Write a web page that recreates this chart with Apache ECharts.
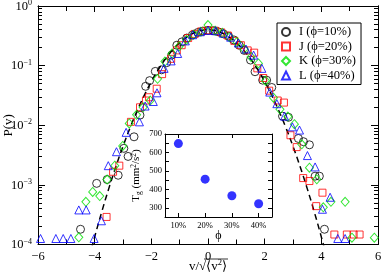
<!DOCTYPE html>
<html><head><meta charset="utf-8">
<script src="https://cdn.jsdelivr.net/npm/echarts@6/dist/echarts.min.js"></script>
<style>html,body{margin:0;padding:0;background:#fff}#c{width:382px;height:277px}</style>
</head><body><div id="c"></div>
<script>
// ---------- data ----------
const seriesNames = ['I (ϕ=10%)', 'J (ϕ=20%)', 'K (ϕ=30%)', 'L (ϕ=40%)'];
const dataI = [[-4.50,1.8e-4],[-3.93,1.06e-3],[-3.56,1.23e-3],[-3.17,1.45e-3],[-2.97,4.1e-3],[-2.82,3.0e-3],[-2.61,6.4e-3],[-2.40,0.0148],[-2.20,0.045],[-2.06,0.056],[-1.86,0.080],[-1.64,0.085],[-1.46,0.112],[-1.28,0.15],[-1.10,0.22],[-0.92,0.25],[-0.75,0.29],[-0.55,0.326],[-0.36,0.36],[-0.18,0.38],[0.0,0.39],[0.18,0.385],[0.36,0.37],[0.55,0.34],[0.73,0.31],[0.91,0.27],[1.10,0.22],[1.28,0.18],[1.50,0.124],[1.66,0.079],[1.93,0.057],[2.07,0.057],[2.25,0.043],[2.63,0.0142],[2.84,0.0136],[3.19,6.0e-3],[3.37,5.3e-3],[3.58,4.7e-3],[3.78,1.4e-3],[3.93,1.4e-3],[4.11,1.8e-4]];
const dataJ = [[-3.58,2.9e-4],[-3.35,1.66e-3],[-3.13,2.1e-3],[-2.72,0.0114],[-2.40,0.020],[-2.19,0.026],[-2.08,0.0295],[-1.81,0.041],[-1.62,0.072],[-1.30,0.13],[-1.10,0.18],[-0.93,0.22],[-0.70,0.29],[-0.47,0.34],[-0.24,0.375],[0.0,0.39],[0.24,0.385],[0.47,0.36],[0.70,0.32],[0.93,0.26],[1.16,0.22],[1.40,0.18],[1.63,0.165],[1.74,0.090],[1.95,0.062],[2.16,0.038],[2.46,0.026],[2.68,0.024],[2.91,6.8e-3],[3.13,4.3e-3],[3.36,1.3e-3],[3.58,1.16e-3],[3.82,4.4e-4],[4.04,7.4e-4],[4.46,1.47e-4],[4.90,1.47e-4],[5.14,1.47e-4],[5.35,1.47e-4]];
const dataK = [[-4.56,1.32e-4],[-4.31,5.2e-4],[-4.07,7.6e-4],[-3.82,6.5e-4],[-3.56,1.23e-3],[-3.29,2.1e-3],[-3.01,4.5e-3],[-2.78,0.0107],[-2.52,0.0150],[-2.29,0.020],[-2.04,0.026],[-1.78,0.060],[-1.52,0.117],[-1.27,0.16],[-1.02,0.21],[-0.76,0.27],[-0.51,0.33],[-0.25,0.37],[0.0,0.48],[0.25,0.385],[0.51,0.355],[0.76,0.30],[1.02,0.25],[1.27,0.19],[1.52,0.14],[1.78,0.109],[2.03,0.056],[2.31,0.029],[2.54,0.0185],[2.82,0.0140],[3.05,0.0104],[3.31,4.8e-3],[3.58,1.94e-3],[3.84,1.24e-3],[4.07,4.2e-4],[4.34,5.2e-4],[4.84,5.2e-4],[5.08,1.3e-4],[5.87,1.3e-4]];
const dataL = [[-5.91,1.26e-4],[-5.37,1.26e-4],[-5.11,1.26e-4],[-4.84,1.26e-4],[-4.56,3.8e-4],[-4.30,3.8e-4],[-4.02,1.26e-4],[-3.76,2.5e-4],[-3.52,2.1e-3],[-3.23,3.6e-3],[-2.89,7.6e-3],[-2.42,0.0114],[-2.22,0.021],[-1.93,0.025],[-1.80,0.035],[-1.55,0.09],[-1.30,0.12],[-1.07,0.16],[-0.80,0.26],[-0.54,0.33],[-0.27,0.37],[0.0,0.39],[0.27,0.385],[0.54,0.35],[0.80,0.30],[1.07,0.24],[1.34,0.19],[1.61,0.15],[1.90,0.090],[2.18,0.036],[2.43,0.023],[2.70,0.0142],[2.98,9.4e-3],[3.23,8.3e-3],[3.51,3.1e-3],[3.78,2.0e-3],[4.04,3.9e-4],[4.31,6.2e-4],[4.58,1.26e-4],[4.84,1.26e-4]];
// dashed reference curve
const curveV = [-4.2,-4.0,-3.75,-3.5,-3.25,-3.0,-2.75,-2.5,-2.25,-2.0,-1.75,-1.5,-1.25,-1.0,-0.75,-0.5,-0.25,0,0.25,0.5,0.75,1.0,1.25,1.5,1.75,2.0,2.25,2.5,2.75,3.0,3.25,3.5,3.75,4.0,4.2];
const curveP = [5.9e-5,1.34e-4,3.53e-4,8.73e-4,2.03e-3,4.43e-3,9.09e-3,0.0175,0.0317,0.054,0.0863,0.1295,0.1826,0.242,0.3011,0.3521,0.3867,0.3989,0.3867,0.3521,0.3011,0.242,0.1826,0.1295,0.0863,0.054,0.0317,0.0175,9.09e-3,4.43e-3,2.03e-3,8.73e-4,3.53e-4,1.34e-4,5.9e-5];
// inset
const insetCats = ['10%','20%','30%','40%'];
const insetVals = [648, 455, 365, 322];
const insetLabelTicks = [300,400,500,600,700];
const insetAllTicks = [250,300,350,400,450,500,550,600,650,700];
const xTickLabels = {'-6':'−6','-4':'−4','-2':'−2','0':'0','2':'2','4':'4','6':'6'};

// ---------- build ----------
const FONT = '"Liberation Serif", "Times New Roman", serif';
const minorLog = [];
[-4,-3,-2,-1].forEach(e => { for (let k = 2; k <= 9; k++) minorLog.push(+(k * Math.pow(10, e)).toPrecision(3)); });
const majorLog = [1e-4,1e-3,1e-2,1e-1,1];

const supRich = {
  b: {fontFamily: FONT, fontSize: 12.5, color: '#000', lineHeight: 14, verticalAlign: 'bottom'},
  s: {fontFamily: FONT, fontSize: 8, color: '#000', lineHeight: 9, verticalAlign: 'top'}
};

function logAxis(pos, withLabels, ticks, len) {
  return {
    type: 'log', logBase: 10, min: 1e-4, max: 1, gridIndex: 0, position: pos,
    axisLine: {show: true, onZero: false, lineStyle: {color: '#000', width: 1}},
    axisTick: {show: true, inside: true, length: len, customValues: ticks, lineStyle: {color: '#000'}},
    axisLabel: withLabels ? {
      show: true, margin: 6, customValues: majorLog,
      formatter: v => { const e = Math.round(Math.log10(v)); return '{b|10}{s|' + (e < 0 ? '−' + (-e) : e) + '}'; },
      rich: supRich
    } : {show: false},
    splitLine: {show: false}, minorTick: {show: false}
  };
}

const mainX = (pos, labels) => ({
  type: 'value', gridIndex: 0, min: -6, max: 6, interval: 2, position: pos,
  axisLine: {show: true, onZero: false, lineStyle: {color: '#000', width: 1}},
  axisTick: {show: true, inside: true, length: 6, lineStyle: {color: '#000'}},
  minorTick: {show: true, splitNumber: 2, length: 5, lineStyle: {color: '#000'}},
  axisLabel: labels ? {show: true, margin: 6, fontFamily: FONT, fontSize: 12.5, color: '#000', formatter: v => xTickLabels[String(v)]} : {show: false},
  splitLine: {show: false},
  name: labels ? '{n|v/√⟨v}{s|2}{n|⟩}' : '', nameLocation: 'middle', nameGap: 14, nameMoveOverlap: false,
  nameTextStyle: {rich: {n: {fontFamily: FONT, fontSize: 13, color: '#000', lineHeight: 15, verticalAlign: 'bottom'}, s: {fontFamily: FONT, fontSize: 8.5, color: '#000', lineHeight: 9, verticalAlign: 'top'}}}
});

const insetX = (pos, labels) => ({
  type: 'category', gridIndex: 1, data: insetCats, position: pos, boundaryGap: true,
  axisLine: {show: true, onZero: false, lineStyle: {color: '#000', width: 1}},
  axisTick: {show: true, inside: true, alignWithLabel: true, length: 4, lineStyle: {color: '#000'}},
  axisLabel: labels ? {show: true, margin: 4, fontFamily: FONT, fontSize: 8.5, color: '#000'} : {show: false},
  splitLine: {show: false},
  name: labels ? 'ϕ' : '', nameLocation: 'middle', nameGap: 13, nameMoveOverlap: false,
  nameTextStyle: {fontFamily: FONT, fontSize: 12, color: '#000'}
});

const insetY = (pos, labels) => ({
  type: 'value', gridIndex: 1, min: 250, max: 700, position: pos,
  axisLine: {show: true, onZero: false, lineStyle: {color: '#000', width: 1}},
  axisTick: {show: true, inside: true, length: 4, customValues: insetAllTicks, lineStyle: {color: '#000'}},
  axisLabel: labels ? {show: true, margin: 3, fontFamily: FONT, fontSize: 8.5, color: '#000', customValues: insetLabelTicks} : {show: false},
  splitLine: {show: false},
  name: labels ? '{t|T}{sub|g}{t| (mm}{sup|2}{t|/s}{sup|2}{t|)}' : '', nameLocation: 'middle', nameGap: 22, nameMoveOverlap: false,
  nameTextStyle: {rich: {
    t: {fontFamily: FONT, fontSize: 11, color: '#000', lineHeight: 13, verticalAlign: 'middle'},
    sub: {fontFamily: FONT, fontSize: 7.5, color: '#000', lineHeight: 8, verticalAlign: 'bottom'},
    sup: {fontFamily: FONT, fontSize: 7.5, color: '#000', lineHeight: 8, verticalAlign: 'top'}
  }}
});

const mainYLeft = logAxis('left', true, majorLog, 7);
mainYLeft.name = 'P(v)'; mainYLeft.nameLocation = 'middle'; mainYLeft.nameGap = 23; mainYLeft.nameMoveOverlap = false;
mainYLeft.nameTextStyle = {fontFamily: FONT, fontSize: 13, color: '#000'};

const symStyle = (c) => ({color: 'rgba(0,0,0,0)', borderColor: c, borderWidth: 1});

const option = {
  animation: false,
  backgroundColor: '#fff',
  grid: [
    {left: 38, top: 6, width: 340, height: 238.5, show: false, containLabel: false, outerBoundsMode: 'none'},
    {left: 165, top: 134, width: 107, height: 83, show: true, backgroundColor: '#fff', borderWidth: 0, containLabel: false, outerBoundsMode: 'none'}
  ],
  xAxis: [mainX('bottom', true), mainX('top', false), insetX('bottom', true), insetX('top', false)],
  yAxis: [mainYLeft, logAxis('left', false, minorLog, 4), logAxis('right', false, majorLog, 7), logAxis('right', false, minorLog, 4), insetY('left', true), insetY('right', false)],
  legend: {
    data: seriesNames, orient: 'vertical', left: 277, top: 23,
    backgroundColor: '#fff', borderColor: '#000', borderWidth: 1, borderRadius: 0,
    padding: [2, 5, 2, 4], itemGap: 0.5, itemWidth: 8, itemHeight: 8,
    textStyle: {fontFamily: FONT, fontSize: 12.5, color: '#000', lineHeight: 14, padding: [0, 0, 0, 4]}
  },
  series: [
    {type: 'line', data: curveV.map((v, i) => [v, curveP[i]]), xAxisIndex: 0, yAxisIndex: 0, symbol: 'none', smooth: true, clip: true, silent: true,
     lineStyle: {color: '#000', width: 1.5, type: [6, 4]}, z: 1},
    {type: 'scatter', name: seriesNames[0], data: dataI, xAxisIndex: 0, yAxisIndex: 0, symbol: 'circle', symbolSize: 8, itemStyle: symStyle('#000')},
    {type: 'scatter', name: seriesNames[1], data: dataJ, xAxisIndex: 0, yAxisIndex: 0, symbol: 'rect', symbolSize: 7, itemStyle: symStyle('#ff0000')},
    {type: 'scatter', name: seriesNames[2], data: dataK, xAxisIndex: 0, yAxisIndex: 0, symbol: 'diamond', symbolSize: [8, 9], itemStyle: symStyle('#00e000')},
    {type: 'scatter', name: seriesNames[3], data: dataL, xAxisIndex: 0, yAxisIndex: 0, symbol: 'triangle', symbolSize: 8, itemStyle: symStyle('#0000ff')},
    {type: 'scatter', name: 'inset', data: insetVals, xAxisIndex: 2, yAxisIndex: 4, symbol: 'circle', symbolSize: 9, itemStyle: {color: '#0000ff'}, z: 5}
  ],
  graphic: [
    {type: 'line', shape: {x1: 204, y1: 259, x2: 228, y2: 259}, style: {stroke: '#000', lineWidth: 0.8}, silent: true}
  ]
};

const chart = echarts.init(document.getElementById('c'), null, {renderer: 'canvas'});
chart.setOption(option);
</script>
</body></html>
